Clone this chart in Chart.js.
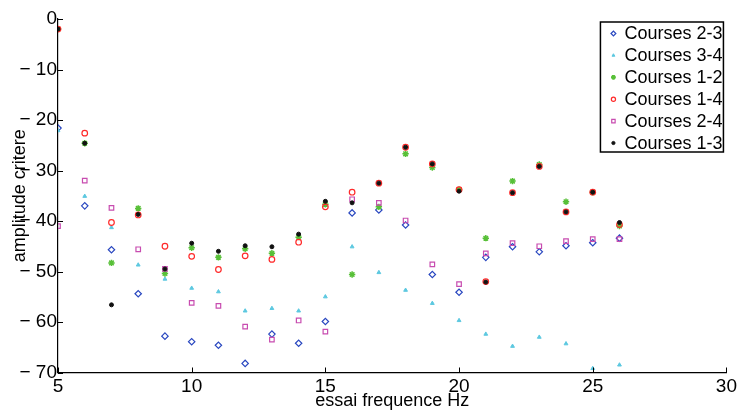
<!DOCTYPE html>
<html>
<head>
<meta charset="utf-8">
<script src="https://cdn.jsdelivr.net/npm/chart.js@4/dist/chart.umd.min.js"></script>
<style>
html,body{margin:0;padding:0;background:#fff;}
#wrap{width:740px;height:412px;}
</style>
</head>
<body>
<div id="wrap"><canvas id="c" width="740" height="412"></canvas></div>
<script>
// ---- data ----
const frequencies = [5,6,7,8,9,10,11,12,13,14,15,16,17,18,19,20,21,22,23,24,25,26];
const seriesLabels = ['Courses 2-3','Courses 3-4','Courses 1-2','Courses 1-4','Courses 2-4','Courses 1-3'];
const courses23 = [-21.6,-37.0,-45.7,-54.4,-62.8,-63.9,-64.6,-68.2,-62.4,-64.2,-59.9,-38.4,-37.8,-40.8,-50.6,-54.1,-47.2,-45.1,-46.1,-44.9,-44.3,-43.4];
const courses34 = [-22.1,-35.1,-41.3,-48.7,-51.5,-53.3,-54.0,-57.8,-57.3,-57.8,-55.0,-45.1,-50.2,-53.7,-56.3,-59.7,-62.4,-64.8,-63.0,-64.3,-69.2,-68.5];
const courses12 = [-2.0,-24.6,-48.3,-37.5,-50.4,-45.3,-47.2,-45.5,-46.4,-43.2,-36.7,-50.6,-37.2,-26.7,-29.4,-33.8,-43.4,-32.1,-28.8,-36.2,-34.3,-41.0];
const courses14 = [-2.0,-22.6,-40.3,-38.8,-45.0,-47.0,-49.6,-46.9,-47.6,-44.2,-37.2,-34.3,-32.5,-25.4,-28.7,-33.8,-52.0,-34.4,-29.2,-38.2,-34.3,-40.7];
const courses24 = [-41.0,-32.0,-37.4,-45.6,-49.5,-56.2,-56.8,-60.9,-63.5,-59.7,-61.9,-35.7,-36.4,-39.9,-48.6,-52.5,-46.4,-44.4,-45.0,-44.0,-43.6,-43.6];
const courses13 = [-2.0,-24.6,-56.6,-38.7,-49.5,-44.4,-46.0,-44.9,-45.1,-42.6,-36.1,-36.4,-32.5,-25.4,-28.7,-34.1,-52.1,-34.4,-29.2,-38.2,-34.3,-40.3];
const xTicks = [5,10,15,20,25,30];
const yTicks = [0,-10,-20,-30,-40,-50,-60,-70];

// ---- styles ----
const FONT = "'Liberation Sans', Arial, sans-serif";
const styles = [
  {color:'#2a48c0', fill:false, style:'rectRot', r:3.2, bw:1.2},
  {color:'#5cc8e0', fill:true,  style:'triangle', r:2.2, bw:1},
  {color:'#58c038', fill:true,  style:'star', r:3.2, bw:1.5},
  {color:'#ff2a2a', fill:false, style:'circle', r:2.8, bw:1.2},
  {color:'#c84cb0', fill:false, style:'rect', r:3.2, bw:1.2},
  {color:'#111111', fill:true,  style:'circle', r:2.0, bw:1}
];
const values = [courses23, courses34, courses12, courses14, courses24, courses13];

const datasets = values.map((vals, i) => ({
  label: seriesLabels[i],
  data: frequencies.map((f, k) => ({x: f, y: vals[k]})),
  showLine: false,
  pointStyle: styles[i].style,
  pointRadius: styles[i].r,
  pointHoverRadius: styles[i].r,
  pointBorderWidth: styles[i].bw,
  borderColor: styles[i].color,
  backgroundColor: styles[i].fill ? styles[i].color : 'rgba(0,0,0,0)',
  pointBackgroundColor: styles[i].fill ? styles[i].color : 'rgba(0,0,0,0)',
  order: values.length - 1 - i
}));

function drawMarker(ctx, st, x, y) {
  const r = Math.max(1.6, st.r * 0.75);
  const opts = {pointStyle: st.style, radius: r, borderWidth: st.bw, rotation: 0};
  ctx.save();
  ctx.strokeStyle = st.color;
  ctx.fillStyle = st.fill ? st.color : 'rgba(0,0,0,0)';
  ctx.lineWidth = st.bw;
  if (Chart.helpers && Chart.helpers.drawPoint) {
    Chart.helpers.drawPoint(ctx, opts, x, y);
  } else {
    ctx.beginPath(); ctx.arc(x, y, r, 0, Math.PI*2);
    if (st.fill) ctx.fill(); ctx.stroke();
  }
  ctx.restore();
}

const extrasPlugin = {
  id: 'extras',
  afterDraw(chart) {
    const ctx = chart.ctx;
    const xs = chart.scales.x, ys = chart.scales.y;
    const ca = chart.chartArea;
    ctx.save();
    ctx.strokeStyle = '#000';
    ctx.lineWidth = 1;
    // inward ticks
    xTicks.forEach(v => {
      const px = Math.round(xs.getPixelForValue(v)) + 0.5;
      ctx.beginPath(); ctx.moveTo(px, ca.bottom); ctx.lineTo(px, ca.bottom - 5); ctx.stroke();
    });
    yTicks.forEach(v => {
      const py = Math.round(ys.getPixelForValue(v)) + 0.5;
      ctx.beginPath(); ctx.moveTo(ca.left, py); ctx.lineTo(ca.left + 5, py); ctx.stroke();
    });
    // legend
    const bx = ca.right - 126, by = ca.top + 3, bw = 123, bh = 130;
    ctx.fillStyle = '#fff';
    ctx.fillRect(bx, by, bw, bh);
    ctx.lineWidth = 1.5;
    ctx.strokeStyle = '#000';
    ctx.strokeRect(bx, by, bw, bh);
    ctx.font = '18px ' + FONT;
    ctx.textBaseline = 'middle';
    seriesLabels.forEach((lab, i) => {
      const cy = by + 11.5 + i * 21.9;
      drawMarker(ctx, styles[i], bx + 13, cy);
      ctx.fillStyle = '#000';
      ctx.fillText(lab, bx + 24, cy + 1);
    });
    ctx.restore();
  }
};

new Chart(document.getElementById('c'), {
  type: 'scatter',
  data: { datasets },
  plugins: [extrasPlugin],
  options: {
    responsive: false,
    animation: false,
    events: [],
    layout: { padding: { top: 19, right: 10.5, left: 0, bottom: 0 } },
    plugins: { legend: { display: false }, tooltip: { enabled: false } },
    scales: {
      x: {
        type: 'linear', min: 5, max: 30,
        afterFit(s) { s.height = 39.5; },
        afterBuildTicks(s) { s.ticks = xTicks.map(v => ({value: v})); },
        grid: { drawOnChartArea: false, drawTicks: false },
        border: { display: true, color: '#000', width: 1.2 },
        ticks: { color: '#000', font: { size: 19, family: FONT }, padding: 3, maxRotation: 0 },
        title: { display: true, text: 'essai frequence Hz', color: '#000', font: { size: 18, family: FONT }, padding: { top: 0, bottom: 0 } }
      },
      y: {
        type: 'linear', min: -70, max: 0,
        afterFit(s) { s.width = 58; },
        afterBuildTicks(s) { s.ticks = yTicks.map(v => ({value: v})); },
        grid: { drawOnChartArea: false, drawTicks: false },
        border: { display: true, color: '#000', width: 1.2 },
        ticks: {
          color: '#000', font: { size: 19, family: FONT }, padding: 1,
          callback: v => v < 0 ? '\u2212 ' + Math.abs(v) : String(v)
        },
        title: { display: true, text: 'amplitude critere', color: '#000', font: { size: 18, family: FONT }, padding: { top: 9, bottom: 0 } }
      }
    }
  }
});
</script>
</body>
</html>
